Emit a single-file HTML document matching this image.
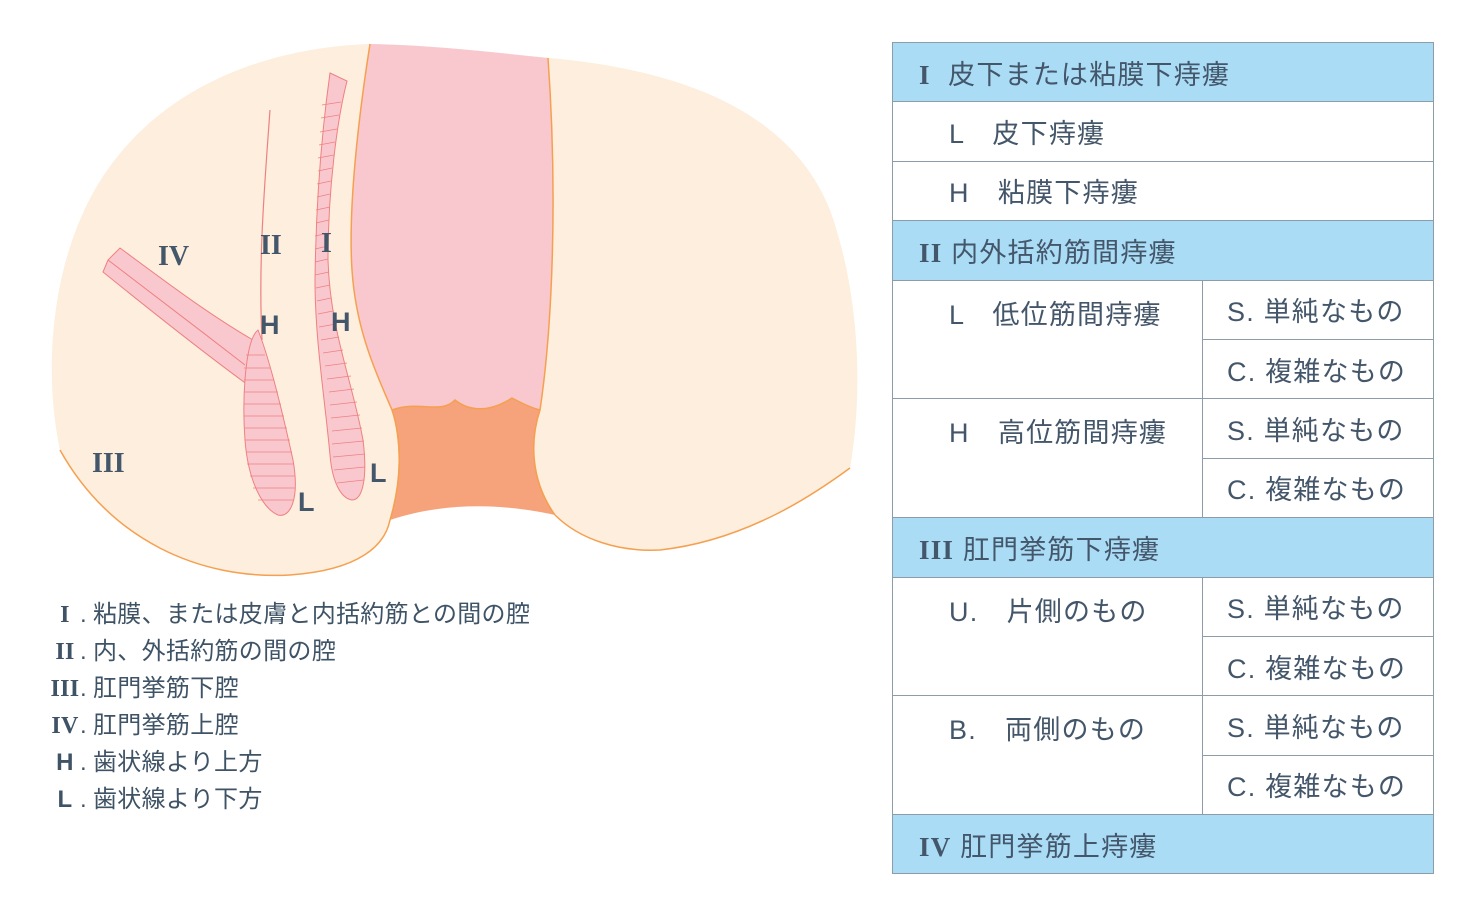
<!DOCTYPE html>
<html><head><meta charset="utf-8"><style>
body{margin:0;background:#fff;width:1480px;height:920px;position:relative;overflow:hidden;font-family:"Liberation Sans","Noto Sans CJK JP",sans-serif;color:#44566a}
svg{position:absolute;left:0;top:0}
.lg{position:absolute;left:50px;font-size:24px;line-height:37px;letter-spacing:0.3px;color:#3f5366}
.lg span{display:inline-block;width:30px;text-align:center;font-family:"Liberation Serif","Noto Sans CJK JP",serif;font-weight:bold}
.lg b{font-weight:normal;display:inline-block;width:13px}
table{position:absolute;left:892px;top:42px;width:542px;border-collapse:collapse;font-size:27px;letter-spacing:1.2px}
td{border:1px solid #8c9ca8;height:58.4px;padding:0;vertical-align:middle}
.h{background:#aadcf6;padding-left:26px}
.s{padding-left:56px;vertical-align:top;padding-top:12px}
.r{padding-left:24px;width:206px}
.rm{font-family:"Liberation Serif",serif;font-weight:bold}
</style></head><body>
<svg width="1480" height="920" viewBox="0 0 1480 920">
<path d="M370,44 C250,48 130,100 80,220 C50,290 45,380 60,450 C110,540 200,580 290,575 C360,570 385,545 390,520 C450,500 510,505 555,515 C580,540 620,552 660,550 C750,540 820,490 850,468 C862,400 862,300 830,210 C790,110 680,70 550,58 C490,52 430,45 370,44 Z" fill="#fdeedd"/>
<path d="M60,450 C110,540 200,580 290,575 C360,570 385,545 390,520" fill="none" stroke="#f5a050" stroke-width="1.5"/>
<path d="M555,515 C580,540 620,552 660,550 C750,540 820,490 850,468" fill="none" stroke="#f5a050" stroke-width="1.5"/>
<path d="M370,44 C358,120 348,210 352,270 C356,330 375,370 392,410 L540,410 C552,330 558,200 548,58 C490,52 430,45 370,44 Z" fill="#f9c8cf"/>
<path d="M392,410 C420,400 440,415 455,400 C470,412 490,412 512,398 C525,405 532,408 540,410 C530,440 530,480 555,515 C510,505 450,500 390,520 C402,480 400,440 392,410 Z" fill="#f6a27a"/>
<path d="M392,410 C420,400 440,415 455,400 C470,412 490,412 512,398 C525,405 532,408 540,410" fill="none" stroke="#f5a050" stroke-width="1.5"/>
<path d="M370,44 C358,120 348,210 352,270 C356,330 375,370 392,410 C402,440 402,480 390,520" fill="none" stroke="#f5a050" stroke-width="1.5"/>
<path d="M548,58 C558,200 552,330 540,410 C530,440 530,480 555,515" fill="none" stroke="#f5a050" stroke-width="1.5"/>
<path d="M120,248 C170,285 210,315 253,340 L248,385 C200,350 150,310 103,272 L108,260 Z" fill="#f9c8cf" stroke="#ef8080" stroke-width="1"/>
<path d="M108,260 C160,300 200,330 245,365" fill="none" stroke="#ef8080" stroke-width="1"/>
<path d="M270,110 C265,180 258,260 262,340" fill="none" stroke="#ef8080" stroke-width="1.2"/>
<path d="M258,330 C270,360 282,410 293,460 C300,500 290,518 278,515 C262,508 248,480 245,440 C242,400 245,340 258,330 Z" fill="#f9c8cf" stroke="#ef8080" stroke-width="1"/>
<g stroke="#ef8080" stroke-width="0.8">
<line x1="246" y1="355" x2="265" y2="355"/><line x1="244" y1="368" x2="270" y2="368"/><line x1="244" y1="380" x2="274" y2="380"/><line x1="244" y1="392" x2="278" y2="392"/><line x1="244" y1="404" x2="281" y2="404"/><line x1="244" y1="416" x2="284" y2="416"/><line x1="245" y1="428" x2="287" y2="428"/><line x1="245" y1="440" x2="290" y2="440"/><line x1="246" y1="452" x2="292" y2="452"/><line x1="247" y1="464" x2="294" y2="464"/><line x1="250" y1="476" x2="295" y2="476"/><line x1="253" y1="488" x2="295" y2="488"/><line x1="258" y1="500" x2="293" y2="500"/>
</g>
<path d="M330,73 L347,81 C337,120 328,190 328,260 C330,330 352,380 363,440 C368,480 362,500 352,500 C340,498 332,480 330,455 C325,400 315,340 315,280 C316,200 322,130 330,73 Z" fill="#f9c8cf" stroke="#ef8080" stroke-width="1"/>
<g stroke="#ef8080" stroke-width="0.8">
<line x1="322" y1="105" x2="341" y2="102"/><line x1="321" y1="118" x2="339" y2="115"/><line x1="320" y1="132" x2="337" y2="129"/><line x1="319" y1="145" x2="335" y2="142"/><line x1="318" y1="158" x2="334" y2="155"/><line x1="318" y1="171" x2="332" y2="168"/><line x1="317" y1="184" x2="331" y2="181"/><line x1="317" y1="197" x2="330" y2="194"/><line x1="316" y1="210" x2="330" y2="207"/><line x1="316" y1="223" x2="329" y2="220"/><line x1="315" y1="236" x2="329" y2="233"/><line x1="315" y1="249" x2="328" y2="246"/><line x1="315" y1="262" x2="328" y2="259"/><line x1="315" y1="275" x2="329" y2="272"/><line x1="316" y1="288" x2="330" y2="285"/><line x1="317" y1="301" x2="331" y2="298"/><line x1="318" y1="314" x2="333" y2="311"/><line x1="319" y1="327" x2="336" y2="324"/><line x1="321" y1="340" x2="339" y2="337"/><line x1="323" y1="353" x2="343" y2="350"/><line x1="325" y1="366" x2="347" y2="363"/><line x1="327" y1="379" x2="351" y2="376"/><line x1="329" y1="392" x2="354" y2="389"/><line x1="330" y1="405" x2="357" y2="402"/><line x1="331" y1="418" x2="360" y2="415"/><line x1="332" y1="431" x2="362" y2="428"/><line x1="332" y1="444" x2="364" y2="441"/><line x1="333" y1="457" x2="365" y2="454"/><line x1="334" y1="470" x2="365" y2="467"/><line x1="337" y1="483" x2="364" y2="480"/>
</g>
<g font-family="Liberation Serif,serif" font-weight="bold" fill="#44566a" font-size="28">
<text x="158" y="265">IV</text><text x="260" y="254">II</text><text x="321" y="252">I</text><text x="92" y="472">III</text>
</g>
<g font-family="Liberation Sans,sans-serif" font-weight="bold" fill="#44566a" font-size="27">
<text x="260" y="334">H</text><text x="331" y="331">H</text><text x="298" y="511">L</text><text x="370" y="482">L</text>
</g>
</svg>
<div class="lg" style="top:596px"><span>I</span><b>.</b>粘膜、または皮膚と内括約筋との間の腔</div>
<div class="lg" style="top:633px"><span>II</span><b>.</b>内、外括約筋の間の腔</div>
<div class="lg" style="top:670px"><span>III</span><b>.</b>肛門挙筋下腔</div>
<div class="lg" style="top:707px"><span>IV</span><b>.</b>肛門挙筋上腔</div>
<div class="lg" style="top:744px"><span style="font-family:'Liberation Sans';font-weight:bold">H</span><b>.</b>歯状線より上方</div>
<div class="lg" style="top:781px"><span style="font-family:'Liberation Sans';font-weight:bold">L</span><b>.</b>歯状線より下方</div>
<table>
<tr><td colspan="2" class="h"><span class="rm">I</span>&nbsp; 皮下または粘膜下痔瘻</td></tr>
<tr><td colspan="2" style="padding-left:56px">L　皮下痔瘻</td></tr>
<tr><td colspan="2" style="padding-left:56px">H　粘膜下痔瘻</td></tr>
<tr><td colspan="2" class="h"><span class="rm">II</span> 内外括約筋間痔瘻</td></tr>
<tr><td rowspan="2" class="s">L　低位筋間痔瘻</td><td class="r">S. 単純なもの</td></tr>
<tr><td class="r">C. 複雑なもの</td></tr>
<tr><td rowspan="2" class="s">H　高位筋間痔瘻</td><td class="r">S. 単純なもの</td></tr>
<tr><td class="r">C. 複雑なもの</td></tr>
<tr><td colspan="2" class="h"><span class="rm">III</span> 肛門挙筋下痔瘻</td></tr>
<tr><td rowspan="2" class="s">U.　片側のもの</td><td class="r">S. 単純なもの</td></tr>
<tr><td class="r">C. 複雑なもの</td></tr>
<tr><td rowspan="2" class="s">B.　両側のもの</td><td class="r">S. 単純なもの</td></tr>
<tr><td class="r">C. 複雑なもの</td></tr>
<tr><td colspan="2" class="h"><span class="rm">IV</span> 肛門挙筋上痔瘻</td></tr>
</table>
</body></html>
